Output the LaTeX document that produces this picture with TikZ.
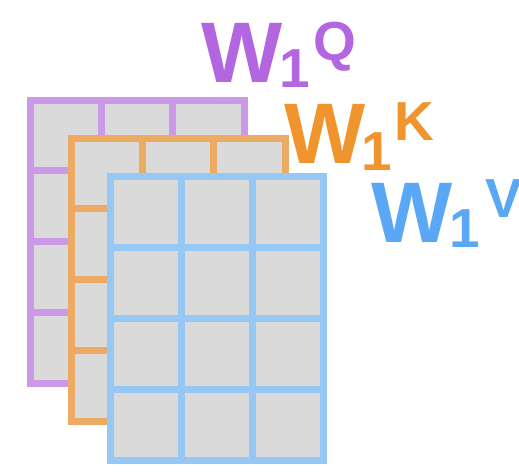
\documentclass[tikz,border=0pt]{standalone}
\usepackage{fontspec}
\setmainfont{Liberation Sans}
\definecolor{gridgray}{HTML}{DADADA}
\definecolor{purpgrid}{HTML}{CC99E8}
\definecolor{oranggrid}{HTML}{ECAA62}
\definecolor{bluegrid}{HTML}{96C8F5}
\definecolor{purptext}{HTML}{B266E0}
\definecolor{orangtext}{HTML}{F0952E}
\definecolor{bluetext}{HTML}{5AA8F5}
\newcommand\lblpart[2]{\raisebox{#1pt}{\fontsize{55}{55}\selectfont #2}}
\begin{document}
\begin{tikzpicture}[x=1pt,y=-1pt,
  gridline/.style={line width=7pt},
  lab/.style={inner sep=0pt, anchor=base west, font=\bfseries\fontsize{86}{86}\selectfont},
  mat/.pic={
    \fill[gridgray] (0,0) rectangle (213.5,283.5);
    \foreach \i in {71.17,142.33} \draw[gridline] (\i,0) -- (\i,283.5);
    \foreach \j in {70.875,141.75,212.625} \draw[gridline] (0,\j) -- (213.5,\j);
    \draw[gridline] (0,0) rectangle (213.5,283.5);
  }]
\useasboundingbox (0,0) rectangle (519,472);
\pic[draw=purpgrid] (wq) at (30.5,100) {mat};
\pic[draw=oranggrid] (wk) at (71.5,138) {mat};
\pic[draw=bluegrid] (wv) at (110,176.5) {mat};
\node[lab, text=purptext] (lq) at (201,82) {W\kern-3pt\lblpart{-5}{1}\kern3.4pt\lblpart{22}{Q}};
\node[lab, text=orangtext] (lk) at (284,163) {W\kern-4pt\lblpart{-7}{1}\kern2.4pt\lblpart{23}{K}};
\node[lab, text=bluetext] (lv) at (371,242) {W\kern-3pt\lblpart{-5}{1}\kern5.4pt\lblpart{25}{V}};
\end{tikzpicture}
\end{document}
